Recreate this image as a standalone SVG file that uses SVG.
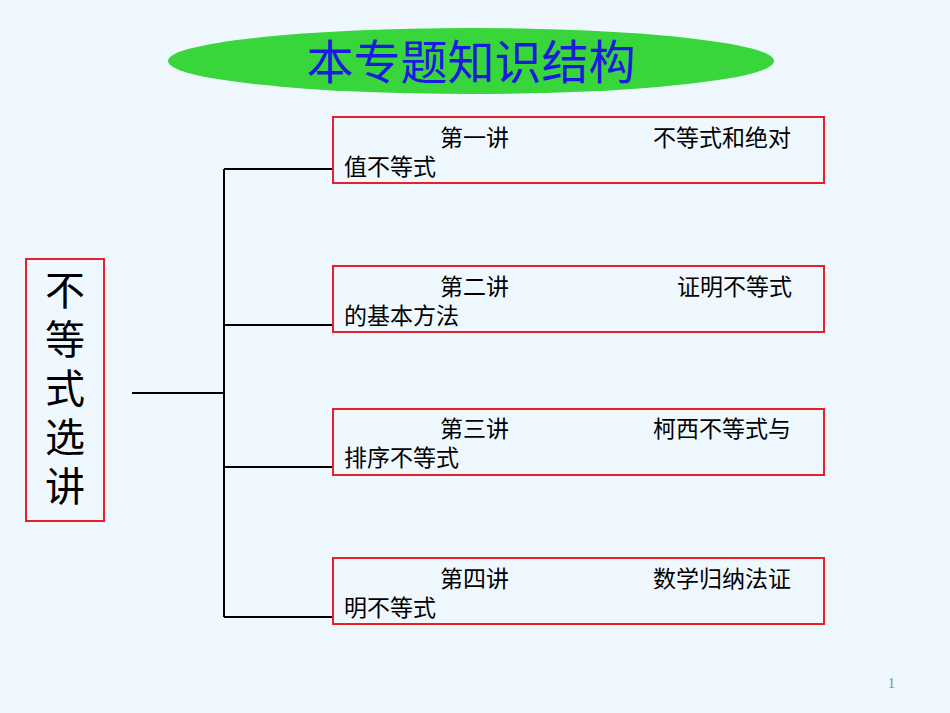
<svg xmlns="http://www.w3.org/2000/svg" width="950" height="713" viewBox="0 0 950 713">
<style>
.b{fill:none;stroke:#E8202A;stroke-width:2}
.t{font-family:"Liberation Serif","Noto Sans CJK SC",serif;font-size:23px;fill:#000}
.c{stroke:#000;stroke-width:2;fill:none}
.v{font-family:"Noto Sans CJK SC",sans-serif;font-size:40px;fill:#000}
</style>
<rect width="950" height="713" fill="#F0F8FF"/>
<g id="title">
<ellipse cx="471" cy="61" rx="303" ry="33" fill="#38D63A"/>
<text x="471" y="79" text-anchor="middle" font-family="Noto Sans CJK SC,sans-serif" font-size="47" fill="#1A1AE0">本专题知识结构</text>
</g>
<g id="root">
<rect x="26" y="259" width="78" height="262" class="b"/>
<text class="v" x="65" y="305" text-anchor="middle">不</text>
<text class="v" x="65" y="354" text-anchor="middle">等</text>
<text class="v" x="65" y="403" text-anchor="middle">式</text>
<text class="v" x="65" y="452" text-anchor="middle">选</text>
<text class="v" x="65" y="501" text-anchor="middle">讲</text>
</g>
<g id="connectors" class="c">
<path d="M132 393H224M224 169V617M224 169H333M224 325H333M224 467H333M224 617H333"/>
</g>
<g id="n1"><rect x="333" y="117" width="491" height="66" class="b"/>
<text class="t" x="440" y="146">第一讲</text><text class="t" x="653" y="146">不等式和绝对</text><text class="t" x="344" y="175">值不等式</text></g>
<g id="n2"><rect x="333" y="266" width="491" height="66" class="b"/>
<text class="t" x="440" y="295">第二讲</text><text class="t" x="677" y="295">证明不等式</text><text class="t" x="344" y="324">的基本方法</text></g>
<g id="n3"><rect x="333" y="409" width="491" height="66" class="b"/>
<text class="t" x="440" y="437">第三讲</text><text class="t" x="653" y="437">柯西不等式与</text><text class="t" x="344" y="466">排序不等式</text></g>
<g id="n4"><rect x="333" y="558" width="491" height="66" class="b"/>
<text class="t" x="440" y="587">第四讲</text><text class="t" x="653" y="587">数学归纳法证</text><text class="t" x="344" y="616">明不等式</text></g>
<text x="888" y="688" font-family="Liberation Serif,serif" font-size="14" fill="#888">1</text>
</svg>
